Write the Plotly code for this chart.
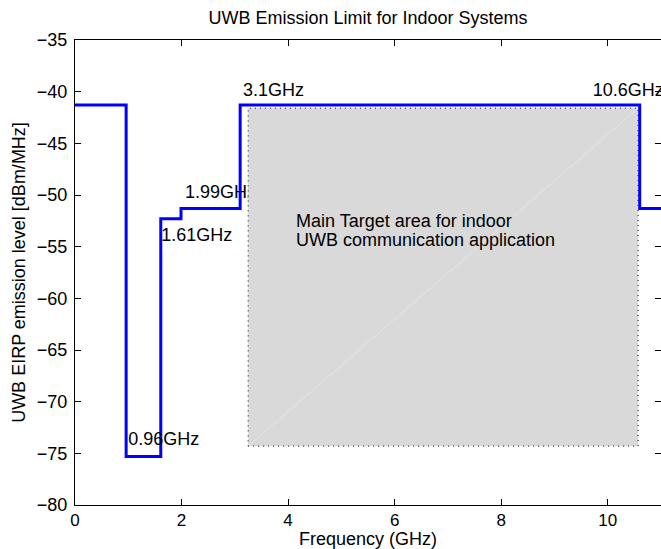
import plotly.graph_objects as go

# ---- data ----
freq_edges = [0, 0.96, 1.61, 1.99, 3.1, 10.6, 11]          # GHz
emission_level = [-41.3, -75.3, -52.3, -51.3, -41.3, -51.3, -51.3]  # dBm/MHz

label_text = ["0.96GHz", "1.61GHz", "3.1GHz", "10.6GHz"]
label_x = [1.0, 1.62, 3.155, 9.72]
label_y = [-73.8, -54.0, -40.0, -40.0]

hidden_label_text = ["1.99GHz"]
hidden_label_x = [2.065]
hidden_label_y = [-49.9]

target_x = [3.25, 10.57]
target_y = [-74.3, -41.6]
target_text = ["Main Target area for indoor", "UWB communication application"]
target_text_x = 4.12
target_text_y = [-52.5, -54.4]

FONT = "Liberation Sans, Arial, Helvetica, sans-serif"
FS = 18

fig = go.Figure()

# label partially hidden behind the target area
fig.add_trace(go.Scatter(x=hidden_label_x, y=hidden_label_y, mode="text",
                         text=hidden_label_text, textposition="middle right",
                         textfont=dict(family=FONT, size=FS, color="black"),
                         hoverinfo="skip", showlegend=False, cliponaxis=False))

# target area (grey patch with dotted border)
rx = [target_x[0], target_x[1], target_x[1], target_x[0], target_x[0]]
ry = [target_y[0], target_y[0], target_y[1], target_y[1], target_y[0]]
fig.add_trace(go.Scatter(x=rx, y=ry, mode="lines", fill="toself",
                         fillcolor="#d9d9d9",
                         line=dict(color="black", width=1, dash="1px,4px"),
                         hoverinfo="skip", showlegend=False))
# faint triangulation seam
fig.add_trace(go.Scatter(x=target_x, y=target_y, mode="lines",
                         line=dict(color="rgba(255,255,255,0.3)", width=1),
                         hoverinfo="skip", showlegend=False))

# emission mask
fig.add_trace(go.Scatter(x=freq_edges, y=emission_level, mode="lines",
                         line=dict(color="#0000ff", width=3, shape="hv"),
                         hoverinfo="skip", showlegend=False, cliponaxis=False))

# frequency labels
fig.add_trace(go.Scatter(x=label_x, y=label_y, mode="text",
                         text=label_text, textposition="middle right",
                         textfont=dict(family=FONT, size=FS, color="black"),
                         hoverinfo="skip", showlegend=False, cliponaxis=False))

for t, ty in zip(target_text, target_text_y):
    fig.add_annotation(x=target_text_x, y=ty, text=t, showarrow=False,
                       xanchor="left", yanchor="middle",
                       font=dict(family=FONT, size=FS, color="black"))

axis_common = dict(showline=True, linecolor="black", linewidth=1,
                   mirror="allticks", ticks="inside", ticklen=6,
                   tickcolor="black", showgrid=False, zeroline=False)

fig.update_xaxes(range=[0, 11], tickvals=[0, 2, 4, 6, 8, 10],
                 tickfont=dict(family=FONT, size=17, color="black"),
                 title=dict(text="Frequency (GHz)", standoff=2,
                            font=dict(family=FONT, size=FS, color="black")),
                 **axis_common)
fig.update_yaxes(range=[-80, -35], dtick=5, ticklabelstandoff=3,
                 tickfont=dict(family=FONT, size=FS, color="black"),
                 title=dict(text="UWB EIRP emission level [dBm/MHz]", standoff=6,
                            font=dict(family=FONT, size=FS, color="black")),
                 **axis_common)

fig.update_layout(
    width=661, height=549,
    margin=dict(l=75, r=0, t=40, b=44),
    paper_bgcolor="white", plot_bgcolor="white",
    title=dict(text="UWB Emission Limit for Indoor Systems",
               x=0.5, xref="paper", y=1 - 18 / 549, yref="container",
               xanchor="center", yanchor="middle",
               font=dict(family=FONT, size=FS, color="black")),
)

fig.write_html("out.html")
